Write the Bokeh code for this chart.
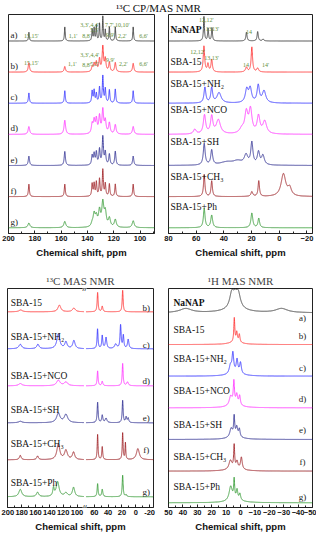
import numpy as np
from bokeh.plotting import figure
from bokeh.layouts import column, row
from bokeh.models import Range1d, FixedTicker, Label
from bokeh.core.properties import value
from bokeh.embed import file_html
from bokeh.resources import INLINE

COLORS = ["#404040", "#ff3a3a", "#3a3aff", "#ff3aff", "#363696", "#a3282c", "#3a9e3a"]
LETTERS = ["a)", "b)", "c)", "d)", "e)", "f)", "g)"]
SAMPLES = ["NaNAP", "SBA-15", "SBA-15+NH\u2082", "SBA-15+NCO", "SBA-15+SH", "SBA-15+CH\u2083", "SBA-15+Ph"]
ANN_COLOR = "#5f8f3a"

# ---------- 13C CP/MAS, aromatic region (200-89 ppm) ----------
CP_PPM = [184.5, 157.2, 136.4, 134.9, 133.2, 130.8, 128.3, 126.4, 123.3, 118.8, 105.2]
CP_A = [0.28, 0.45, 0.37, 0.40, 0.50, 0.55, 0.78, 0.35, 0.45, 0.45, 0.45]
CP_B = [0.30, 0.18, 0.15, 0.25, 0.30, 0.40, 0.80, 0.40, 0.30, 0.30, 0.28]
CP_C = [0.33, 0.40, 0.38, 0.40, 0.30, 0.50, 0.86, 0.45, 0.42, 0.45, 0.40]
CP_D = [0.25, 0.45, 0.30, 0.40, 0.45, 0.55, 0.75, 0.40, 0.35, 0.30, 0.25]
CP_E = [0.30, 0.45, 0.30, 0.35, 0.40, 0.50, 0.90, 0.40, 0.35, 0.45, 0.30]
CP_F = [0.40, 0.40, 0.40, 0.40, 0.45, 0.55, 0.85, 0.40, 0.40, 0.40, 0.40]
CP_G = [0.15, 0.20, 0.10, 0.40, 0.30, 0.50, 0.75, 0.45, 0.28, 0.25, 0.22]
CP_WIDTH = [0.35, 0.6, 0.45, 0.7, 0.55, 0.45, 0.9]

CP_ANN_A_TEXT = ["15,15'", "1,1'", "8,8'", "5,5'", "3,3',4,4'", "9,9'", "7,7',10,10'", "2,2'", "6,6'"]
CP_ANN_A_PPM = [182.7, 151.0, 140.6, 134.6, 138.3, 122.6, 117.3, 113.5, 97.4]
CP_ANN_A_DY = [0.15, 0.15, 0.15, 0.34, 0.50, 0.18, 0.50, 0.15, 0.15]
CP_ANN_B_TEXT = ["15,15'", "1,1'", "8,8'", "5,5'", "3,3',4,4'", "9,9'", "2,2'", "6,6'"]
CP_ANN_B_PPM = [182.7, 151.5, 140.6, 134.6, 138.3, 122.6, 112.8, 97.4]
CP_ANN_B_DY = [0.30, 0.25, 0.22, 0.25, 0.55, 0.40, 0.25, 0.25]

# ---------- 13C CP/MAS, aliphatic region (80 to -24 ppm) ----------
AL_A_PPM = [54.4, 51.4, 48.6, 23.7, 15.6, 11.7]
AL_A_H = [0.78, 0.40, 0.42, 0.28, 0.30, 0.06]
AL_A_W = [0.4, 0.4, 0.4, 0.5, 0.5, 0.6]
AL_B_PPM = [54.4, 51.5, 48.8, 23.7, 19.8, 15.6]
AL_B_H = [0.83, 0.25, 0.40, 0.15, 0.80, 0.12]
AL_B_W = [0.6, 0.6, 0.6, 0.8, 0.6, 0.8]
AL_C_PPM = [53.7, 48.8, 43.5, 23.5, 21.0, 15.2, 11.0]
AL_C_H = [0.50, 0.48, 0.33, 0.42, 0.45, 0.55, 0.38]
AL_C_W = [0.8, 0.8, 1.8, 1.2, 1.2, 1.0, 1.5]
AL_D_PPM = [61.0, 54.0, 48.8, 44.0, 27.0, 23.8, 20.8, 15.0, 10.5]
AL_D_H = [0.15, 0.60, 0.55, 0.45, 0.15, 0.65, 0.75, 0.55, 0.40]
AL_D_W = [1.2, 1.0, 1.0, 1.8, 2.0, 1.3, 1.3, 1.2, 1.6]
AL_E_PPM = [54.2, 48.8, 38.0, 30.0, 24.0, 19.8, 15.0, 11.8]
AL_E_H = [0.68, 0.47, 0.10, 0.12, 0.30, 0.70, 0.40, 0.30]
AL_E_W = [0.8, 0.8, 6.0, 4.0, 1.5, 0.9, 1.0, 1.2]
AL_F_PPM = [54.2, 48.8, 19.8, 14.8, -3.0, -7.5]
AL_F_H = [0.70, 0.50, 0.15, 0.50, 0.72, 0.25]
AL_F_W = [0.6, 0.6, 0.8, 0.6, 2.0, 1.5]
AL_G_PPM = [54.2, 48.8, 19.8, 14.8]
AL_G_H = [0.62, 0.40, 0.47, 0.30]
AL_G_W = [0.7, 0.8, 0.8, 0.7]

AL_ANN_A_TEXT = ["12,12'", "13", "13'", "14"]
AL_ANN_A_PPM = [52.7, 51.0, 46.0, 21.9]
AL_ANN_A_DY = [0.68, 0.40, 0.40, 0.30]
AL_ANN_B_TEXT = ["12,12'", "13,13'", "14", "14'"]
AL_ANN_B_PPM = [59.0, 49.0, 24.0, 10.0]
AL_ANN_B_DY = [0.65, 0.46, 0.22, 0.22]
AL_LABEL_DY = [0.34, 0.31, 0.62, 0.77, 0.74, 0.62, 0.68]

# ---------- 13C MAS (broken axis 200-90 // 72 to -25 ppm) ----------
MAS_B_PPM = [181.5, 125.5, 104.5, 55.2, 48.5, 19.0]
MAS_B_H = [0.05, 0.18, 0.10, 0.52, 0.15, 0.58]
MAS_B_W = [3.0, 2.5, 2.5, 0.8, 1.0, 0.8]
MAS_C_PPM = [182.0, 156.5, 127.0, 116.0, 104.5, 55.3, 48.5, 43.0, 29.0, 22.0, 18.0, 11.0]
MAS_C_H = [0.12, 0.12, 0.40, 0.18, 0.22, 0.53, 0.35, 0.30, 0.12, 0.63, 0.35, 0.25]
MAS_C_W = [2.5, 2.0, 2.5, 2.0, 2.0, 0.8, 0.9, 1.2, 2.0, 0.9, 0.9, 1.2]
MAS_D_PPM = [182.0, 127.0, 116.0, 55.2, 48.5, 19.0, 12.0]
MAS_D_H = [0.06, 0.15, 0.10, 0.40, 0.12, 0.60, 0.10]
MAS_D_W = [3.0, 3.0, 3.0, 0.8, 1.0, 0.8, 1.5]
MAS_E_PPM = [182.0, 127.0, 116.0, 55.2, 48.5, 43.0, 19.0, 14.0, 11.0]
MAS_E_H = [0.04, 0.25, 0.22, 0.55, 0.20, 0.12, 0.60, 0.15, 0.12]
MAS_E_W = [3.0, 3.0, 3.0, 0.8, 1.0, 1.5, 0.8, 1.0, 1.0]
MAS_F_PPM = [182.0, 157.0, 127.0, 116.0, 105.0, 55.2, 48.5, 19.0, 15.0, -3.0]
MAS_F_H = [0.12, 0.10, 0.42, 0.25, 0.20, 0.68, 0.35, 0.72, 0.45, 0.30]
MAS_F_W = [1.5, 1.5, 2.5, 2.5, 2.0, 0.7, 0.8, 0.7, 0.6, 2.5]
MAS_G_PPM = [182.0, 157.0, 134.0, 128.0, 116.0, 105.0, 55.2, 48.5, 19.0, 14.0]
MAS_G_H = [0.20, 0.12, 0.22, 0.40, 0.10, 0.25, 0.35, 0.20, 0.58, 0.05]
MAS_G_W = [2.5, 2.0, 1.2, 2.5, 2.5, 2.0, 0.8, 1.0, 0.8, 1.0]
MAS_SHIFT = 15.0
MAS_TICKS = [200, 180, 160, 140, 120, 100, 60, 40, 20, 0, -20]
MAS_LABEL_DY = [0.24, 0.32, 0.26, 0.34, 0.42, 0.37]
MAS_LETTER_DY = [0.10, 0.10, 0.13, 0.13, 0.26, 0.13]

# ---------- 1H MAS (50 to -50 ppm) ----------
H_A_PPM = [38.0, 6.0, 3.7, 1.6, 3.5, -28.5]
H_A_H = [0.13, 0.48, 0.25, 0.46, 0.12, 0.13]
H_A_W = [5.0, 1.8, 1.5, 1.8, 9.0, 5.0]
H_B_PPM = [4.3, 2.6, 0.8, 3.5]
H_B_H = [0.75, 0.30, 0.25, 0.08]
H_B_W = [0.4, 0.5, 0.5, 5.0]
H_C_PPM = [5.3, 7.0, 2.4, 0.0, 3.5]
H_C_H = [0.62, 0.25, 0.42, 0.35, 0.08]
H_C_W = [0.7, 1.0, 0.7, 0.7, 6.0]
H_D_PPM = [4.6, 6.8, 2.6, 0.6, 3.5]
H_D_H = [0.72, 0.30, 0.32, 0.30, 0.07]
H_D_W = [0.5, 1.2, 0.7, 0.6, 6.0]
H_E_PPM = [4.4, 6.5, 2.6, 0.8, 3.5]
H_E_H = [0.62, 0.28, 0.30, 0.25, 0.07]
H_E_W = [0.45, 1.1, 0.7, 0.6, 6.0]
H_F_PPM = [4.4, 7.0, 2.4, -0.6, 3.5]
H_F_H = [0.72, 0.28, 0.22, 0.38, 0.07]
H_F_W = [0.4, 1.2, 0.7, 0.7, 6.0]
H_G_PPM = [4.4, 6.8, 2.4, 0.4, 3.5]
H_G_H = [0.60, 0.45, 0.30, 0.20, 0.08]
H_G_W = [0.4, 1.3, 0.6, 0.6, 6.0]
H_LABEL_DY = [0.31, 0.46, 0.55, 0.52, 0.46, 0.46, 0.49]
H_LETTER_DY = [-0.15, 0.28, 0.25, 0.28, 0.30, 0.28, 0.18]

SERIF = value("Liberation Serif")
SANS = "Liberation Sans"


def lorentz(x, ppm, h, w):
    x = np.asarray(x, dtype=float)[:, None]
    ppm = np.asarray(ppm, dtype=float)[None, :]
    h = np.asarray(h, dtype=float)[None, :]
    w = np.asarray(w, dtype=float) * np.ones_like(ppm)
    return (h / (1.0 + ((x - ppm) / w) ** 2)).sum(axis=1)


def make_fig(width, height, xr, yr, bl, br, bt, bb, major, minor, title=None):
    p = figure(width=width, height=height, x_range=Range1d(*xr), y_range=Range1d(*yr),
               toolbar_location=None, output_backend="svg", y_axis_location=None,
               min_border_left=bl, min_border_right=br, min_border_top=bt, min_border_bottom=bb,
               background_fill_color="white", border_fill_color="white")
    p.xgrid.visible = False
    p.ygrid.visible = False
    p.outline_line_color = "#222222"
    p.outline_line_width = 1
    ax = p.xaxis[0]
    ax.ticker = FixedTicker(ticks=major, minor_ticks=minor)
    ax.axis_label = "Chemical shift, ppm"
    ax.axis_label_text_font = SANS
    ax.axis_label_text_font_style = "bold"
    ax.axis_label_text_font_size = "9.5px"
    ax.axis_label_text_color = "#111111"
    ax.axis_label_standoff = 3
    ax.major_label_text_font = SANS
    ax.major_label_text_font_style = "bold"
    ax.major_label_text_font_size = "7.5px"
    ax.major_label_text_color = "#111111"
    ax.major_label_standoff = 2
    ax.major_tick_in = 3
    ax.major_tick_out = 0
    ax.minor_tick_in = 2
    ax.minor_tick_out = 0
    ax.axis_line_color = "#222222"
    ax.major_tick_line_color = "#222222"
    ax.minor_tick_line_color = "#222222"
    if title:
        p.title.text = title
        p.title.align = "center"
        p.title.text_font = "Liberation Serif"
        p.title.text_font_style = "normal"
        p.title.text_font_size = "11px"
        p.title.standoff = 3
    return p


# ---------- title figure ----------
tfig = figure(width=316, height=13, x_range=Range1d(0, 1), y_range=Range1d(0, 1),
              toolbar_location=None, output_backend="svg", x_axis_location=None,
              y_axis_location=None, min_border=0, outline_line_color=None)
tfig.xgrid.visible = False
tfig.ygrid.visible = False
tfig.text(x=[0.5], y=[0.45], text=["\u00b9\u00b3C CP/MAS NMR"], text_align="center",
          text_baseline="middle", text_font=SERIF, text_font_size="11px", text_color="#111111")

# ---------- panel 1 ----------
p1 = make_fig(160, 247, (200, 89), (-0.185, 6.85), 8, 6, 1, 20,
              [200, 180, 160, 140, 120, 100], [190, 170, 150, 130, 110, 90])
x1 = np.linspace(200, 89, 2200)
for i, hs in enumerate([CP_A, CP_B, CP_C, CP_D, CP_E, CP_F, CP_G]):
    off = 6 - i
    p1.line(x1, off + lorentz(x1, CP_PPM, hs, CP_WIDTH[i]), line_color=COLORS[i], line_width=0.9)
p1.text(x=[198.5] * 7, y=[6 - i + 0.03 for i in range(7)], text=LETTERS, text_align="left",
        text_baseline="bottom", text_font=SERIF, text_font_size="9px", text_color="#222222")
p1.text(x=CP_ANN_A_PPM, y=[6 + d for d in CP_ANN_A_DY], text=CP_ANN_A_TEXT, text_align="center",
        text_baseline="middle", text_font=SERIF, text_font_size="6px", text_color=ANN_COLOR)
p1.text(x=CP_ANN_B_PPM, y=[5 + d for d in CP_ANN_B_DY], text=CP_ANN_B_TEXT, text_align="center",
        text_baseline="middle", text_font=SERIF, text_font_size="6px", text_color=ANN_COLOR)

# ---------- panel 2 ----------
p2 = make_fig(156, 247, (80, -24), (-0.185, 6.85), 8, 4, 1, 20,
              [80, 60, 40, 20, 0, -20], [70, 50, 30, 10, -10])
x2 = np.linspace(80, -24, 2200)
al = [(AL_A_PPM, AL_A_H, AL_A_W), (AL_B_PPM, AL_B_H, AL_B_W), (AL_C_PPM, AL_C_H, AL_C_W),
      (AL_D_PPM, AL_D_H, AL_D_W), (AL_E_PPM, AL_E_H, AL_E_W), (AL_F_PPM, AL_F_H, AL_F_W),
      (AL_G_PPM, AL_G_H, AL_G_W)]
for i, (pp, hh, ww) in enumerate(al):
    off = 6 - i
    p2.line(x2, off + lorentz(x2, pp, hh, ww), line_color=COLORS[i], line_width=0.9)
for i in range(7):
    p2.text(x=[78.6], y=[6 - i + AL_LABEL_DY[i]], text=[SAMPLES[i]], text_align="left",
            text_baseline="middle", text_font=SERIF, text_font_size="9.5px",
            text_font_style="bold" if i == 0 else "normal", text_color="#111111")
p2.text(x=AL_ANN_A_PPM, y=[6 + d for d in AL_ANN_A_DY], text=AL_ANN_A_TEXT, text_align="center",
        text_baseline="middle", text_font=SERIF, text_font_size="6px", text_color=ANN_COLOR)
p2.text(x=AL_ANN_B_PPM, y=[5 + d for d in AL_ANN_B_DY], text=AL_ANN_B_TEXT, text_align="center",
        text_baseline="middle", text_font=SERIF, text_font_size="6px", text_color=ANN_COLOR)

# ---------- panel 3 (broken axis) ----------
mas_u = [t - MAS_SHIFT if t >= 90 else t for t in MAS_TICKS]
minor_u = [175, 155, 135, 115, 95, 50, 30, 10, -10]
p3 = make_fig(160, 274, (185.5, -25.6), (-0.29, 5.63), 7, 7, 28, 20, mas_u, minor_u,
              title="\u00b9\u00b3C MAS NMR")
p3.xaxis[0].major_label_overrides = {u: str(t) for u, t in zip(mas_u, MAS_TICKS)}
xl = np.linspace(200, 90, 1200)
xr = np.linspace(72, -25.6, 1200)
mas = [(MAS_B_PPM, MAS_B_H, MAS_B_W), (MAS_C_PPM, MAS_C_H, MAS_C_W), (MAS_D_PPM, MAS_D_H, MAS_D_W),
       (MAS_E_PPM, MAS_E_H, MAS_E_W), (MAS_F_PPM, MAS_F_H, MAS_F_W), (MAS_G_PPM, MAS_G_H, MAS_G_W)]
for i, (pp, hh, ww) in enumerate(mas):
    off = 5 - i
    c = COLORS[i + 1]
    p3.line(xl - MAS_SHIFT, off + lorentz(xl, pp, hh, ww), line_color=c, line_width=0.9)
    p3.line(xr, off + lorentz(xr, pp, hh, ww), line_color=c, line_width=0.9)
    p3.text(x=[180.8], y=[off + MAS_LABEL_DY[i]], text=[SAMPLES[i + 1]], text_align="left",
            text_baseline="middle", text_font=SERIF, text_font_size="9.5px", text_color="#111111")
    p3.text(x=[-15], y=[off + MAS_LETTER_DY[i]], text=[LETTERS[i + 1]], text_align="center",
            text_baseline="middle", text_font=SERIF, text_font_size="9px", text_color="#222222")
for yb in (5.63, -0.29):
    p3.add_layout(Label(x=74, y=yb, text="//", text_align="center", text_baseline="middle",
                        text_font="Liberation Sans", text_font_size="8px", text_color="#222222",
                        background_fill_color="white"))

# ---------- panel 4 ----------
p4 = make_fig(156, 274, (50, -50), (-0.15, 6.77), 8, 4, 28, 20,
              list(range(50, -51, -10)), list(range(45, -46, -10)), title="\u00b9H MAS NMR")
x4 = np.linspace(50, -50, 2200)
hm = [(H_A_PPM, H_A_H, H_A_W), (H_B_PPM, H_B_H, H_B_W), (H_C_PPM, H_C_H, H_C_W),
      (H_D_PPM, H_D_H, H_D_W), (H_E_PPM, H_E_H, H_E_W), (H_F_PPM, H_F_H, H_F_W),
      (H_G_PPM, H_G_H, H_G_W)]
for i, (pp, hh, ww) in enumerate(hm):
    off = 6 - i
    p4.line(x4, off + lorentz(x4, pp, hh, ww), line_color=COLORS[i], line_width=0.9)
    p4.text(x=[46.6], y=[off + H_LABEL_DY[i]], text=[SAMPLES[i]], text_align="left",
            text_baseline="middle", text_font=SERIF, text_font_size="9.5px",
            text_font_style="bold" if i == 0 else "normal", text_color="#111111")
    p4.text(x=[-43], y=[off + H_LETTER_DY[i]], text=[LETTERS[i]], text_align="center",
            text_baseline="middle", text_font=SERIF, text_font_size="9px", text_color="#222222")

layout = column(tfig, row(p1, p2), row(p3, p4))
open("out.html", "w").write(file_html(layout, INLINE))
